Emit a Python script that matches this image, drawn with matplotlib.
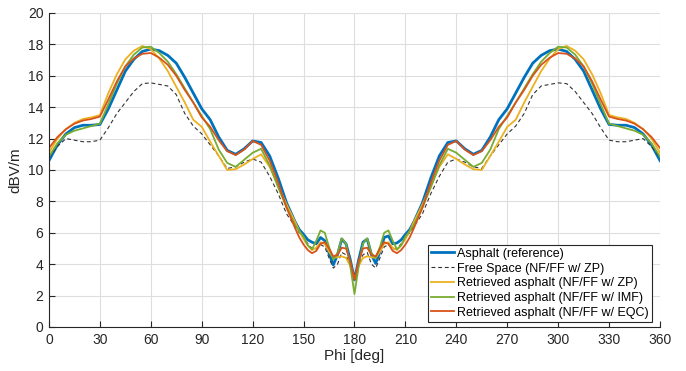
import numpy as np
import matplotlib
matplotlib.use("Agg")
import matplotlib.pyplot as plt

plt.rcParams['font.family'] = ['Liberation Sans', 'DejaVu Sans']

# sample angles (deg): 5 deg steps outside, 2.5 deg steps in the middle
phi = [0, 5, 10, 15, 20, 25, 30, 35, 40, 45, 50, 55, 60, 65, 70, 75, 80, 85, 90, 95,
       100, 105, 110, 115, 120, 125, 130, 135, 140, 145,
       147.5, 150, 152.5, 155, 157.5, 160, 162.5, 165, 167.5, 170, 172.5, 175, 177.5,
       180,
       182.5, 185, 187.5, 190, 192.5, 195, 197.5, 200, 202.5, 205, 207.5, 210, 212.5,
       215, 220, 225, 230, 235, 240, 245, 250, 255, 260, 265, 270, 275, 280, 285, 290,
       295, 300, 305, 310, 315, 320, 325, 330, 335, 340, 345, 350, 355, 360]

asphalt_ref = [10.6, 11.6, 12.3, 12.7, 12.85, 12.85, 12.9, 13.9, 15.1, 16.3, 17.05, 17.55, 17.7, 17.6, 17.3,
               16.8, 15.9, 14.9, 13.9, 13.2, 12.1, 11.25, 11.0, 11.35, 11.85, 11.75, 10.9, 9.5, 7.9, 6.7,
               6.2, 5.9, 5.55, 5.4, 5.3, 5.7, 5.5, 4.7, 3.95, 4.6, 5.6, 5.3, 4.3,
               3.0,
               4.3, 5.4, 5.6, 4.6, 4.05, 4.8, 5.7, 5.8, 5.3, 5.35, 5.55, 5.9, 6.2,
               6.7, 7.9, 9.5, 10.9, 11.75, 11.85, 11.35, 11.0, 11.25, 12.1, 13.2, 13.9, 14.9, 15.9,
               16.8, 17.3, 17.6, 17.7, 17.55, 17.05, 16.3, 15.1, 13.9, 12.9, 12.85, 12.85, 12.7, 12.3, 11.6, 10.6]

free_space = [10.8, 11.5, 12.0, 11.9, 11.8, 11.8, 11.9, 12.7, 13.6, 14.3, 15.0, 15.5, 15.55, 15.45, 15.35,
              14.8, 13.6, 12.8, 12.3, 11.6, 10.9, 10.1, 10.2, 10.5, 10.7, 10.5, 9.6, 8.5, 7.2, 6.4,
              6.0, 5.7, 5.3, 5.0, 4.95, 5.25, 5.1, 4.4, 3.75, 4.0, 4.75, 4.6, 3.9,
              3.3,
              3.9, 4.6, 4.75, 4.0, 3.75, 4.4, 5.1, 5.25, 4.95, 5.0, 5.3, 5.7, 6.0,
              6.4, 7.2, 8.5, 9.6, 10.5, 10.7, 10.5, 10.2, 10.1, 10.9, 11.6, 12.3, 12.8, 13.6,
              14.8, 15.35, 15.45, 15.55, 15.5, 15.0, 14.3, 13.6, 12.7, 11.9, 11.8, 11.8, 11.9, 12.0, 11.5, 10.8]

retr_zp = [11.1, 12.0, 12.6, 13.0, 13.25, 13.35, 13.5, 14.9, 16.1, 17.05, 17.6, 17.9, 17.7, 17.1, 16.3,
           15.3, 14.3, 13.2, 12.75, 11.8, 10.9, 10.0, 10.05, 10.35, 10.7, 11.0, 10.2, 9.0, 7.8, 6.7,
           6.1, 5.6, 5.2, 4.9, 5.05, 5.4, 5.3, 4.8, 4.4, 4.45, 4.5, 4.4, 3.9,
           3.1,
           3.9, 4.4, 4.5, 4.45, 4.4, 4.8, 5.3, 5.4, 5.05, 4.9, 5.2, 5.6, 6.1,
           6.7, 7.8, 9.0, 10.2, 11.0, 10.7, 10.35, 10.05, 10.0, 10.9, 11.8, 12.75, 13.2, 14.3,
           15.3, 16.3, 17.1, 17.7, 17.9, 17.6, 17.05, 16.1, 14.9, 13.5, 13.35, 13.25, 13.0, 12.6, 12.0, 11.1]

retr_imf = [10.85, 11.7, 12.25, 12.5, 12.65, 12.8, 12.95, 14.2, 15.5, 16.6, 17.35, 17.8, 17.85, 17.45, 16.9,
            16.1, 15.2, 14.3, 13.45, 12.6, 11.3, 10.45, 10.2, 10.65, 11.1, 11.35, 10.3, 8.9, 7.6, 6.5,
            6.1, 5.75, 5.2, 4.95, 5.5, 6.15, 6.0, 5.1, 4.3, 4.7, 5.65, 5.3, 3.9,
            2.1,
            3.9, 5.3, 5.65, 4.7, 4.4, 5.1, 6.0, 6.15, 5.5, 4.95, 5.2, 5.75, 6.1,
            6.5, 7.6, 8.9, 10.3, 11.35, 11.1, 10.65, 10.2, 10.45, 11.3, 12.6, 13.45, 14.3, 15.2,
            16.1, 16.9, 17.45, 17.85, 17.8, 17.35, 16.6, 15.5, 14.2, 12.95, 12.8, 12.65, 12.5, 12.25, 11.7, 10.85]

retr_eqc = [11.4, 12.1, 12.6, 12.95, 13.15, 13.25, 13.4, 14.5, 15.65, 16.6, 17.1, 17.4, 17.45, 17.15, 16.7,
            16.0, 15.1, 14.3, 13.35, 12.75, 11.9, 11.2, 10.95, 11.3, 11.85, 11.6, 10.6, 9.2, 7.6, 6.3,
            5.7, 5.25, 4.9, 4.7, 4.85, 5.3, 5.4, 5.0, 4.5, 4.6, 5.05, 5.0, 4.2,
            3.0,
            4.2, 5.0, 5.05, 4.6, 4.5, 5.0, 5.4, 5.3, 4.85, 4.7, 4.9, 5.25, 5.7,
            6.3, 7.6, 9.2, 10.6, 11.6, 11.85, 11.3, 10.95, 11.2, 11.9, 12.75, 13.35, 14.3, 15.1,
            16.0, 16.7, 17.15, 17.45, 17.4, 17.1, 16.6, 15.65, 14.5, 13.4, 13.25, 13.15, 12.95, 12.6, 12.1, 11.4]

labels = ["Asphalt (reference)", "Free Space (NF/FF w/ ZP)", "Retrieved asphalt (NF/FF w/ ZP)",
          "Retrieved asphalt (NF/FF w/ IMF)", "Retrieved asphalt (NF/FF w/ EQC)"]

fig = plt.figure(figsize=(6.86, 3.71), dpi=100)
ax = fig.add_axes([0.0714, 0.1186, 0.8907, 0.8464])

ax.plot(phi, asphalt_ref, color='#0072BD', lw=2.0, label=labels[0])
ax.plot(phi, free_space, color='#333333', lw=0.8, ls=(0, (3.5, 2.5)), label=labels[1])
ax.plot(phi, retr_zp, color='#EDB120', lw=1.3, label=labels[2])
ax.plot(phi, retr_imf, color='#77AC30', lw=1.3, label=labels[3])
ax.plot(phi, retr_eqc, color='#D95319', lw=1.3, label=labels[4])

ax.set_xlim(0, 360)
ax.set_ylim(0, 20)
ax.set_xticks(np.arange(0, 361, 30))
ax.set_yticks(np.arange(0, 21, 2))
ax.grid(True, color='#dedede', lw=0.8)
ax.set_axisbelow(True)
for s in ['top', 'right']:
    ax.spines[s].set_visible(False)
for s in ['left', 'bottom']:
    ax.spines[s].set_color('#262626')
    ax.spines[s].set_linewidth(0.8)
ax.tick_params(direction='in', length=4.5, width=0.8, colors='#262626', labelsize=10, pad=4)

ax.set_xlabel("Phi [deg]", fontsize=11, color='#262626', labelpad=2)
ax.set_ylabel("dBV/m", fontsize=11, color='#262626', labelpad=4)

leg = ax.legend(loc='lower right', bbox_to_anchor=(0.987, 0.016), borderaxespad=0,
                fontsize=9, fancybox=False, framealpha=1, edgecolor='#262626',
                handlelength=1.8, handletextpad=0.3, labelspacing=0.22, borderpad=0.25)
leg.get_frame().set_linewidth(0.8)

fig.savefig("out.png", dpi=100)
